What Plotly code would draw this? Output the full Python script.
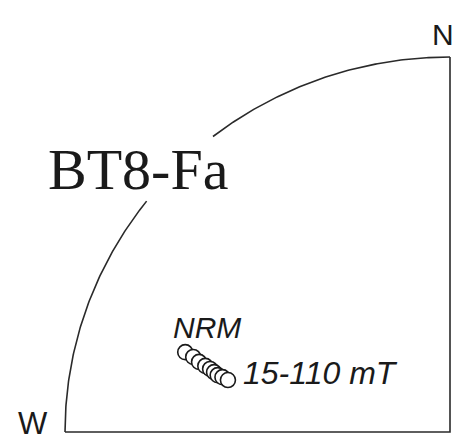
import numpy as np
import plotly.graph_objects as go

# Demagnetization directions (declination, inclination in degrees); open = upper hemisphere
steps = ["NRM", "15", "20", "30", "40", "50", "60", "80", "110"]
dec = [287.2, 286.7, 286.0, 285.5, 285.1, 284.6, 284.1, 283.9, 283.5]
inc = [-28.8, -31.0, -32.7, -34.4, -35.7, -36.8, -37.8, -39.0, -40.4]

site_label = "BT8-Fa"
first_label = "NRM"
range_label = "15-110 mT"

# Arc segments of the primitive circle (declination ranges), gap for the label
arc_segments = [(270, 308), (322, 360)]


def project(d, i):
    d = np.radians(np.asarray(d))
    r = np.sqrt(2) * np.sin(np.radians(90 - np.abs(np.asarray(i))) / 2)
    return r * np.sin(d), r * np.cos(d)


fig = go.Figure()
line_style = dict(color="#2a2a2a", width=1.6)

for a0, a1 in arc_segments:
    t = np.radians(np.linspace(a0, a1, 120))
    fig.add_trace(go.Scatter(x=np.sin(t), y=np.cos(t), mode="lines",
                             line=line_style, hoverinfo="skip"))

fig.add_trace(go.Scatter(x=[-1, 0, 0], y=[0, 0, 1], mode="lines",
                         line=line_style, hoverinfo="skip"))

px_, py_ = project(dec, inc)
fig.add_trace(go.Scatter(x=px_, y=py_, mode="markers", text=steps,
                         marker=dict(size=15, color="white",
                                     line=dict(color="#1a1a1a", width=1.6))))

font_sans = "Liberation Sans, Arial, sans-serif"
ann = [
    dict(x=-0.018, y=1.061, text="N", font=dict(size=30, family=font_sans)),
    dict(x=-1.083, y=0.024, text="W", font=dict(size=31, family=font_sans)),
    dict(x=-0.810, y=0.699, text=site_label,
         font=dict(size=58, family="Liberation Serif, Times New Roman, serif")),
    dict(x=-0.631, y=0.280, text="<i>" + first_label + "</i>",
         font=dict(size=30, family=font_sans)),
    dict(x=-0.542, y=0.157, text="<i>" + range_label + "</i>", xanchor="left",
         font=dict(size=32, family=font_sans)),
]
for a in ann:
    a.setdefault("xanchor", "center")
    a["font"]["color"] = "#1a1a1a"
    fig.add_annotation(xref="x", yref="y", yanchor="middle", showarrow=False, **a)

fig.update_layout(
    width=462, height=442, margin=dict(l=0, r=0, t=0, b=0),
    paper_bgcolor="white", plot_bgcolor="white", showlegend=False,
    xaxis=dict(range=[-450 / 385, 12 / 385], visible=False, fixedrange=True),
    yaxis=dict(range=[-10 / 375, 432 / 375], visible=False, fixedrange=True),
)

fig.write_html("out.html", config={"displayModeBar": False},
               post_script="document.body.style.margin='0';document.body.style.overflow='hidden';")
